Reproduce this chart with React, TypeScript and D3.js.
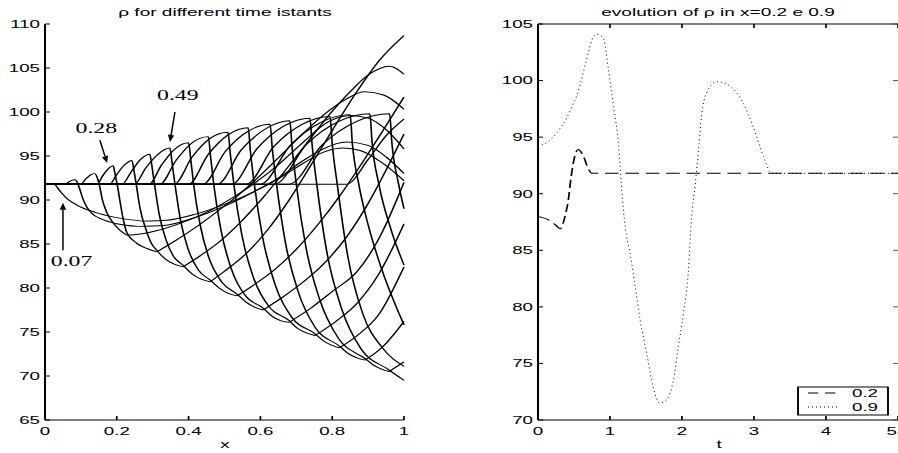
import React from "react";
import * as d3 from "d3";

type Pt = [number, number];

// horizontal stretch applied to the whole figure
const SX = 1.7;
const SANS = "'Liberation Sans', Arial, Helvetica, sans-serif";
const SERIF = "'Liberation Serif', 'Times New Roman', serif";

// rho(x) profiles at successive instants t = 0.07, 0.14, ...
const rhoT007: Pt[] = [[0,91.8],[0.025,91.8],[0.04,91.1],[0.06,90.2],[0.09,89.4],[0.14,88.6],[0.2,88.0],[0.27,87.6],[0.34,87.7],[0.42,88.4],[0.5,89.5],[0.58,90.9],[0.65,92.4],[0.72,94.2],[0.78,95.5],[0.83,95.9],[0.88,95.6],[0.94,94.2],[1,92.2]];
const rhoT014: Pt[] = [[0,91.8],[0.055,91.8],[0.068,92.1],[0.078,92.28],[0.084,92.3],[0.09,92.0],[0.097,91.2],[0.105,90.2],[0.115,89.3],[0.13,88.5],[0.16,87.8],[0.2,87.3],[0.26,87.0],[0.33,87.1],[0.41,87.9],[0.5,89.3],[0.58,90.9],[0.65,92.5],[0.72,94.5],[0.78,95.9],[0.84,96.6],[0.9,96.2],[0.95,94.9],[1,93.0]];
const rhoT021: Pt[] = [[0,91.8],[0.1,91.8],[0.113,92.35],[0.127,92.85],[0.139,93.0],[0.145,92.6],[0.151,91.8],[0.16,90.0],[0.172,88.6],[0.19,87.4],[0.208,86.6],[0.228,86.0],[0.26,86.1],[0.31,86.5],[0.38,87.4],[0.45,88.6],[0.52,90.2],[0.58,91.8],[0.65,94.0],[0.72,96.6],[0.79,98.9],[0.85,99.6],[0.9,99.3],[0.95,98.0],[1,95.8]];
const rhoT028: Pt[] = [[0,91.8],[0.145,91.8],[0.16,92.7],[0.175,93.5],[0.19,93.9],[0.195,92.95],[0.201,91.8],[0.21,89.6],[0.218,87.8],[0.228,86.3],[0.255,85.1],[0.283,84.5],[0.311,84.1],[0.36,85.3],[0.42,86.9],[0.48,88.7],[0.54,90.6],[0.6,92.8],[0.66,95.2],[0.72,97.6],[0.78,99.8],[0.84,101.5],[0.89,102.3],[0.945,101.9],[1,100.3]];
const rhoT035: Pt[] = [[0,91.8],[0.18,91.8],[0.2,92.9],[0.222,94.0],[0.242,94.5],[0.248,93.3],[0.254,91.8],[0.265,89.0],[0.28,86.8],[0.296,85.1],[0.311,84.3],[0.335,83.3],[0.36,82.7],[0.384,82.4],[0.43,83.6],[0.49,85.4],[0.55,87.7],[0.61,90.4],[0.67,93.4],[0.73,96.5],[0.79,99.6],[0.85,102.3],[0.9,104.2],[0.96,105.2],[1,104.3]];
const rhoT042: Pt[] = [[0,91.8],[0.215,91.8],[0.24,93.2],[0.266,94.6],[0.292,95.2],[0.298,93.8],[0.305,91.8],[0.318,88.4],[0.336,85.6],[0.358,83.6],[0.384,82.6],[0.41,81.6],[0.435,81.0],[0.46,80.7],[0.5,81.9],[0.56,83.9],[0.62,86.6],[0.68,90.0],[0.74,93.9],[0.8,97.9],[0.87,102.4],[0.93,105.8],[1,108.7]];
const rhoT049: Pt[] = [[0,91.8],[0.25,91.8],[0.28,93.6],[0.315,95.2],[0.348,95.9],[0.354,94.2],[0.362,91.8],[0.377,87.8],[0.398,84.5],[0.428,82.0],[0.46,80.9],[0.485,80.0],[0.51,79.4],[0.535,79.1],[0.58,80.3],[0.64,82.1],[0.7,84.4],[0.76,87.2],[0.82,90.4],[0.88,94.0],[0.94,97.8],[1,101.7]];
const rhoT056: Pt[] = [[0,91.8],[0.29,91.8],[0.325,94.0],[0.362,95.8],[0.4,96.5],[0.406,94.6],[0.414,91.8],[0.432,87.2],[0.456,83.5],[0.492,80.7],[0.535,79.3],[0.56,78.4],[0.585,77.8],[0.608,77.5],[0.66,78.9],[0.72,80.7],[0.78,82.9],[0.84,85.8],[0.9,89.6],[0.95,93.4],[1,97.5]];
const rhoT063: Pt[] = [[0,91.8],[0.32,91.8],[0.365,94.5],[0.41,96.5],[0.455,97.2],[0.461,95.0],[0.47,91.8],[0.49,86.6],[0.517,82.4],[0.557,79.2],[0.608,77.7],[0.632,76.8],[0.656,76.3],[0.68,76.1],[0.74,77.7],[0.8,79.6],[0.87,81.9],[0.93,85.6],[1,92.0]];
const rhoT070: Pt[] = [[0,91.8],[0.36,91.8],[0.41,94.9],[0.46,97.0],[0.51,97.7],[0.516,95.3],[0.526,91.8],[0.548,86.1],[0.578,81.5],[0.622,78.0],[0.68,76.3],[0.704,75.4],[0.728,74.9],[0.752,74.6],[0.81,76.2],[0.87,78.3],[0.93,81.6],[1,87.3]];
const rhoT077: Pt[] = [[0,91.8],[0.4,91.8],[0.455,95.2],[0.51,97.4],[0.566,98.2],[0.572,95.6],[0.583,91.8],[0.607,85.6],[0.64,80.5],[0.687,76.7],[0.752,74.8],[0.775,74.0],[0.798,73.5],[0.82,73.2],[0.87,74.6],[0.93,77.0],[1,82.4]];
const rhoT084: Pt[] = [[0,91.8],[0.44,91.8],[0.502,95.5],[0.565,97.8],[0.627,98.6],[0.633,95.9],[0.645,91.8],[0.67,85.1],[0.705,79.6],[0.753,75.5],[0.82,73.4],[0.843,72.6],[0.867,72.1],[0.891,71.8],[0.94,73.3],[1,76.2]];
const rhoT091: Pt[] = [[0,91.8],[0.48,91.8],[0.547,95.7],[0.615,98.1],[0.682,99.0],[0.688,96.1],[0.7,91.8],[0.727,84.6],[0.765,78.7],[0.817,74.3],[0.891,72.0],[0.913,71.3],[0.936,70.8],[0.958,70.5],[1,71.6]];
const rhoT098: Pt[] = [[0,91.8],[0.52,91.8],[0.592,95.9],[0.665,98.4],[0.738,99.3],[0.744,96.3],[0.757,91.8],[0.785,84.1],[0.825,77.8],[0.88,73.1],[0.958,70.7],[1,69.5]];
const rhoT105: Pt[] = [[0,91.8],[0.56,91.8],[0.638,96.1],[0.716,98.6],[0.794,99.5],[0.8,96.4],[0.814,91.8],[0.843,83.7],[0.885,77.1],[0.94,73.2],[1,71.1]];
const rhoT112: Pt[] = [[0,91.8],[0.6,91.8],[0.683,96.2],[0.767,98.8],[0.85,99.7],[0.856,96.5],[0.874,91.8],[0.9,87.2],[0.934,82.6],[1,75.8]];
const rhoT119: Pt[] = [[0,91.8],[0.64,91.8],[0.728,96.3],[0.817,98.9],[0.905,99.8],[0.911,96.6],[0.93,91.8],[0.965,86.5],[1,82.6]];
const rhoT126: Pt[] = [[0,91.8],[0.68,91.8],[0.773,96.3],[0.867,98.9],[0.96,99.8],[0.966,96.6],[0.985,91.8],[1,89.0]];
const rhoT133: Pt[] = [[0,91.8],[0.84,91.8],[0.9,94.6],[0.95,97.3],[1,99.2]];

const profiles: Pt[][] = [
  rhoT007, rhoT014, rhoT021, rhoT028, rhoT035, rhoT042, rhoT049, rhoT056, rhoT063,
  rhoT070, rhoT077, rhoT084, rhoT091, rhoT098, rhoT105, rhoT112, rhoT119, rhoT126, rhoT133,
];

// annotated instants: label, arrow tip, arrow tail, label anchor (x, rho)
const annotLabels = ["0.07", "0.28", "0.49"];
const annotTips: Pt[] = [[0.05, 89.7], [0.173, 94.2], [0.348, 96.6]];
const annotTails: Pt[] = [[0.05, 84.3], [0.153, 96.8], [0.362, 100.0]];
const annotTextPos: Pt[] = [[0.074, 82.5], [0.143, 97.6], [0.37, 101.4]];

// rho(t) at x = 0.2 and x = 0.9
const tAt02 = [0, 0.17, 0.25, 0.31, 0.375, 0.42, 0.46, 0.51, 0.56, 0.63, 0.7, 0.75, 0.85, 5];
const rhoAt02 = [88.0, 87.6, 87.2, 86.9, 88.0, 89.4, 91.5, 93.3, 93.9, 93.3, 92.2, 91.8, 91.8, 91.8];
const tAt09 = [0, 0.14, 0.21, 0.31, 0.4, 0.47, 0.54, 0.6, 0.68, 0.75, 0.82, 0.91, 0.98, 1.05, 1.12, 1.16, 1.21, 1.28, 1.35, 1.42, 1.51, 1.6, 1.69, 1.79, 1.88, 1.95, 2.02, 2.09, 2.13, 2.18, 2.23, 2.27, 2.34, 2.48, 2.67, 2.85, 2.99, 3.13, 3.25, 3.4, 5];
const rhoAt09 = [94.2, 94.6, 95.0, 95.8, 96.7, 97.7, 98.7, 100.0, 102.0, 103.6, 104.1, 103.7, 100.9, 97.7, 94.2, 90.6, 87.1, 84.7, 81.8, 78.8, 75.9, 72.9, 71.5, 71.8, 73.5, 76.5, 79.4, 83.3, 87.7, 90.6, 93.9, 96.8, 98.9, 99.9, 99.5, 98.0, 95.9, 93.3, 91.8, 91.8, 91.8];
const legendLabels = ["0.2", "0.9"];

const xTicksLeft = [0, 0.2, 0.4, 0.6, 0.8, 1];
const yTicksLeft = [65, 70, 75, 80, 85, 90, 95, 100, 105, 110];
const tTicks = [0, 1, 2, 3, 4, 5];
const yTicksRight = [70, 75, 80, 85, 90, 95, 100, 105];

function Label(props: { x: number; y: number; text: string; anchor?: string; size?: number; family?: string }) {
  const { x, y, text, anchor = "middle", size = 11, family = SANS } = props;
  return (
    <text transform={`translate(${x},${y}) scale(${SX},1)`} textAnchor={anchor} fontSize={size} fontFamily={family} fill="#000">
      {text}
    </text>
  );
}

export default function App() {
  const xL = d3.scaleLinear().domain([0, 1]).range([45 / SX, 404 / SX]);
  const yL = d3.scaleLinear().domain([65, 110]).range([420, 24]);
  const xR = d3.scaleLinear().domain([0, 5]).range([538 / SX, 898 / SX]);
  const xRs = d3.scaleLinear().domain([0, 5]).range([538, 898]);
  const yR = d3.scaleLinear().domain([70, 105]).range([420, 24]);

  const lineL = d3.line<Pt>().x((d) => xL(d[0])).y((d) => yL(d[1])).curve(d3.curveMonotoneX);
  const lineR = d3.line<Pt>().x((d) => xR(d[0])).y((d) => yR(d[1])).curve(d3.curveMonotoneX);
  const lineRs = d3.line<Pt>().x((d) => xRs(d[0])).y((d) => yR(d[1])).curve(d3.curveMonotoneX);

  // break each profile at its trough so the shock corner stays sharp
  const pieces: Pt[][] = profiles.flatMap((p) => {
    const i = d3.minIndex(p, (d) => d[1]);
    return i > 0 && i < p.length - 1 ? [p.slice(0, i + 1), p.slice(i)] : [p];
  });

  const series02 = d3.zip(tAt02, rhoAt02) as Pt[];
  const series09 = d3.zip(tAt09, rhoAt09) as Pt[];

  const arrows = annotTips.map((tip, i) => {
    const tx = xL(tip[0]) * SX, ty = yL(tip[1]);
    const ax = xL(annotTails[i][0]) * SX, ay = yL(annotTails[i][1]);
    const len = Math.hypot(tx - ax, ty - ay);
    const ux = (tx - ax) / len, uy = (ty - ay) / len;
    const hl = 7, hw = 3.2;
    const bx = tx - ux * hl, by = ty - uy * hl;
    return {
      line: `M${ax},${ay}L${bx},${by}`,
      head: `M${tx},${ty}L${bx - uy * hw},${by + ux * hw}L${bx + uy * hw},${by - ux * hw}Z`,
    };
  });

  const tickLen = 5 / SX;

  return (
    <svg width={898} height={453} style={{ position: "absolute", left: 0, top: 0, background: "#fff" }}>
      <rect width={898} height={453} fill="#fff" />
      <g transform={`scale(${SX},1)`} strokeLinejoin="round">
        {/* left panel: profiles */}
        <g fill="none" stroke="#000" strokeWidth={0.95}>
          {pieces.map((p, i) => (
            <path key={i} d={lineL(p) || ""} />
          ))}
        </g>
        {/* left axes */}
        <g stroke="#000" fill="none">
          <line x1={xL(0)} x2={xL(0)} y1={yL(110)} y2={yL(65)} strokeWidth={1.2} />
          <line x1={xL(0)} x2={xL(1)} y1={yL(65)} y2={yL(65)} strokeWidth={1.2} />
          {yTicksLeft.map((v) => (
            <line key={v} x1={xL(0)} x2={xL(0) + tickLen} y1={yL(v)} y2={yL(v)} strokeWidth={1} />
          ))}
          {xTicksLeft.map((v) => (
            <line key={v} x1={xL(v)} x2={xL(v)} y1={yL(65)} y2={yL(65) - 4} strokeWidth={1} />
          ))}
        </g>

        {/* right panel: x = 0.2 */}
        <path d={lineR(series02) || ""} fill="none" stroke="#000" strokeWidth={1} strokeDasharray="8 4" />

        {/* right axes */}
        <g stroke="#000" fill="none">
          <line x1={xR(0)} x2={xR(0)} y1={yR(105)} y2={yR(70)} strokeWidth={1.2} />
          <line x1={xR(0)} x2={xR(5)} y1={yR(70)} y2={yR(70)} strokeWidth={1.2} />
          <line x1={xR(0)} x2={xR(5)} y1={yR(105)} y2={yR(105)} strokeWidth={1} />
          {yTicksRight.map((v) => (
            <g key={v}>
              <line x1={xR(0)} x2={xR(0) + tickLen} y1={yR(v)} y2={yR(v)} strokeWidth={1} />
              <line x1={xR(5)} x2={xR(5) - tickLen} y1={yR(v)} y2={yR(v)} strokeWidth={1} stroke="#555" />
            </g>
          ))}
          {tTicks.map((v) => (
            <g key={v}>
              <line x1={xR(v)} x2={xR(v)} y1={yR(70)} y2={yR(70) - 4} strokeWidth={1} />
              <line x1={xR(v)} x2={xR(v)} y1={yR(105)} y2={yR(105) + 4} strokeWidth={1} />
            </g>
          ))}
        </g>

        {/* legend box and dashed sample */}
        <rect x={798 / SX} y={387} width={90 / SX} height={28} fill="#fff" stroke="#000" strokeWidth={1.1} />
        <line x1={808 / SX} x2={838 / SX} y1={393} y2={393} stroke="#000" strokeWidth={1} strokeDasharray="6 4" />
      </g>

      {/* right panel: x = 0.9, dotted */}
      <path d={lineRs(series09) || ""} fill="none" stroke="#000" strokeWidth={1} strokeDasharray="1 3" />
      <line x1={808} x2={838} y1={407} y2={407} stroke="#000" strokeWidth={1} strokeDasharray="1 3" />

      {/* annotation arrows */}
      <g stroke="#000" strokeWidth={1.5} fill="#000">
        {arrows.map((a, i) => (
          <g key={i}>
            <path d={a.line} fill="none" />
            <path d={a.head} stroke="none" />
          </g>
        ))}
      </g>
      {annotLabels.map((s, i) => (
        <Label key={s} x={xL(annotTextPos[i][0]) * SX} y={yL(annotTextPos[i][1])} text={s} size={14} family={SERIF} />
      ))}

      {/* left text */}
      <Label x={225} y={16} text="ρ for different time istants" size={11.2} />
      {yTicksLeft.map((v) => (
        <Label key={v} x={40} y={yL(v) + 3.8} text={String(v)} anchor="end" />
      ))}
      {xTicksLeft.map((v) => (
        <Label key={v} x={xL(v) * SX} y={435} text={String(v)} />
      ))}
      <Label x={225} y={447.5} text="x" />

      {/* right text */}
      <Label x={718} y={16} text="evolution of ρ in x=0.2 e 0.9" size={11.2} />
      {yTicksRight.map((v) => (
        <Label key={v} x={533} y={yR(v) + 3.8} text={String(v)} anchor="end" />
      ))}
      {tTicks.map((v) => (
        <Label key={v} x={v === 5 ? 897 : xRs(v)} y={435} text={String(v)} anchor={v === 5 ? "end" : "middle"} />
      ))}
      <Label x={719} y={447.5} text="t" />
      {legendLabels.map((s, i) => (
        <Label key={s} x={852} y={397 + i * 14} text={s} anchor="start" />
      ))}
    </svg>
  );
}
